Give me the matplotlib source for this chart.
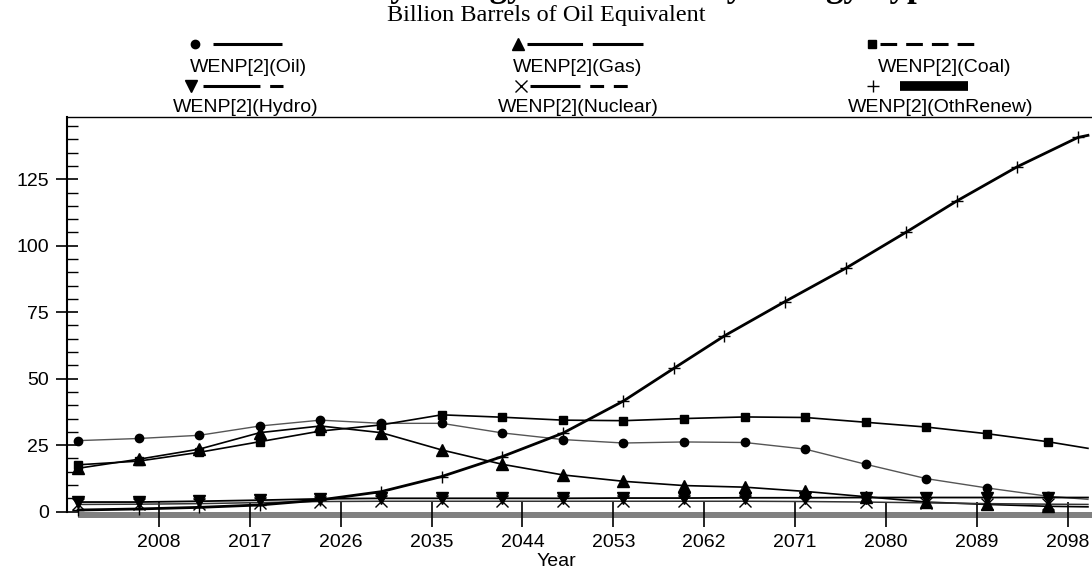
import matplotlib
matplotlib.use('Agg')
import matplotlib.pyplot as plt
from matplotlib.lines import Line2D

plt.rcParams['font.family'] = ['Liberation Sans', 'DejaVu Sans']
plt.rcParams['lines.scale_dashes'] = False

# Datos (miles de millones de barriles equivalentes)
years = [2000, 2006, 2012, 2018, 2024, 2030, 2036, 2042, 2048, 2054,
         2060, 2066, 2072, 2078, 2084, 2090, 2096, 2100]
oil = [26.7, 27.5, 28.7, 32.2, 34.4, 33.2, 33.2, 29.6, 27.1, 25.8,
       26.2, 26.0, 23.5, 17.8, 12.4, 8.9, 5.8, 4.6]
gas = [16.3, 19.7, 23.5, 29.7, 32.2, 29.7, 23.2, 17.8, 13.8, 11.4,
       9.8, 9.2, 7.6, 5.6, 3.6, 2.7, 2.0, 1.8]
coal = [17.6, 19.0, 22.3, 26.3, 30.3, 32.6, 36.4, 35.5, 34.4, 34.2,
        35.0, 35.6, 35.4, 33.6, 31.8, 29.3, 26.3, 23.8]
hydro = [3.6, 3.6, 3.9, 4.3, 4.8, 5.0, 5.0, 5.0, 5.0, 5.1,
         5.1, 5.2, 5.2, 5.3, 5.3, 5.3, 5.3, 5.3]
nuclear = [2.7, 2.8, 3.0, 3.4, 3.8, 3.9, 3.9, 3.9, 3.9, 3.9,
           3.9, 3.9, 3.8, 3.6, 3.3, 3.0, 2.8, 2.7]
renew_years = [2000, 2006, 2012, 2018, 2024, 2030, 2036, 2042, 2048, 2054,
               2059, 2064, 2070, 2076, 2082, 2087, 2093, 2099, 2100]
renew = [0.6, 1.0, 1.6, 2.5, 4.4, 7.5, 13.2, 20.7, 29.5, 41.6,
         53.9, 66.1, 79.0, 91.5, 105.1, 116.8, 129.7, 140.7, 141.5]

xticks = [2008, 2017, 2026, 2035, 2044, 2053, 2062, 2071, 2080, 2089, 2098]
yticks = [0, 25, 50, 75, 100, 125]

W, H = 1092, 572
fig = plt.figure(figsize=(W / 100, H / 100), dpi=100)
ax = fig.add_axes([67 / W, 54 / H, 1 - 67 / W, (518 - 117) / H])

x0, x1 = 1998.9, 2100.4
y0, y1 = -2.4, 148.4
ax.set_xlim(x0, x1)
ax.set_ylim(y0, y1)

# banda gris bajo el cero
ax.fill_between([2000, x1], y0, 0, color='#808080', lw=0, zorder=1)

series = [
    (years, oil, 'o', 6, '#555555', 1.0),
    (years, gas, '^', 8, 'black', 1.2),
    (years, coal, 's', 6, 'black', 1.2),
    (years, hydro, 'v', 8, 'black', 1.3),
    (years, nuclear, 'x', 8, '#333333', 1.1),
    (renew_years, renew, '+', 9, 'black', 2.0),
]
for xs, ys, mk, ms, col, lw in series:
    ax.plot(xs, ys, color=col, lw=lw, zorder=3)
    ax.plot(xs[:-1], ys[:-1], ls='none', marker=mk, ms=ms, color='black',
            mec='black', mew=1.0, zorder=4)

# ejes
ax.spines['right'].set_visible(False)
ax.spines['bottom'].set_visible(False)
ax.spines['bottom'].set_position(('data', -0.95))
ax.spines['left'].set_bounds(0, y1)
ax.spines['left'].set_linewidth(1.5)
ax.spines['top'].set_linewidth(1.0)

ax.set_xticks(xticks)
ax.set_yticks(yticks)
ax.set_yticks(range(5, 150, 5), minor=True)
ax.tick_params(axis='x', direction='inout', length=18, width=1.2, pad=5,
               labelsize=14)
ax.tick_params(axis='y', which='major', direction='inout', length=16,
               width=1.2, pad=5, labelsize=14)
ax.tick_params(axis='y', which='minor', direction='in', length=8, width=1)
ax.tick_params(axis='x', which='minor', bottom=False)

fig.text(556 / W, 1 - 562 / H, 'Year', ha='center', va='center', fontsize=14)

# titulo (cortado arriba) y subtitulo
fig.text(560 / W, 1 + 4 / H, 'World Primary Energy Production by Energy Type',
         ha='center', va='baseline', fontsize=25, fontweight='bold',
         family='Liberation Serif')
fig.text(546 / W, 1 - 15 / H, 'Billion Barrels of Oil Equivalent',
         ha='center', va='center', fontsize=17.5, family='Liberation Serif')

# leyenda dibujada a mano
def fx(px):
    return px / W


def fy(py):
    return 1 - py / H


legend = [
    ('o', 6, 195, 44, 213, 282, 2.2, (None, None), 'WENP[2](Oil)', 248, 68),
    ('v', 8, 191, 86, 203, 283, 2.2, (0, (41, 7, 10, 100)), 'WENP[2](Hydro)', 246, 108),
    ('^', 8, 518, 44, 527, 643, 2.2, (0, (40, 7)), 'WENP[2](Gas)', 578, 68),
    ('x', 8, 521, 86, 530, 643, 2.2, (0, (36, 7, 10, 7, 10, 100)), 'WENP[2](Nuclear)', 578, 108),
    ('s', 6, 872, 44, 880, 975, 2.2, (0, (12, 6.5)), 'WENP[2](Coal)', 945, 68),
    ('+', 8, 873, 86, 900, 968, 7.0, (None, None), 'WENP[2](OthRenew)', 941, 108),
]
for mk, ms, mx, my, lx0, lx1, lw, dash, label, tx, ty in legend:
    fig.add_artist(Line2D([fx(mx)], [fy(my)], marker=mk, ms=ms, color='black',
                          mew=1.0, ls='none'))
    ls = '-' if dash[0] is None else dash
    fig.add_artist(Line2D([fx(lx0), fx(lx1)], [fy(my), fy(my)], color='black',
                          lw=lw, ls=ls, solid_capstyle='butt',
                          dash_capstyle='butt'))
    fig.text(fx(tx), fy(ty), label, ha='center', va='center', fontsize=14)

fig.savefig('out.png', dpi=100)
